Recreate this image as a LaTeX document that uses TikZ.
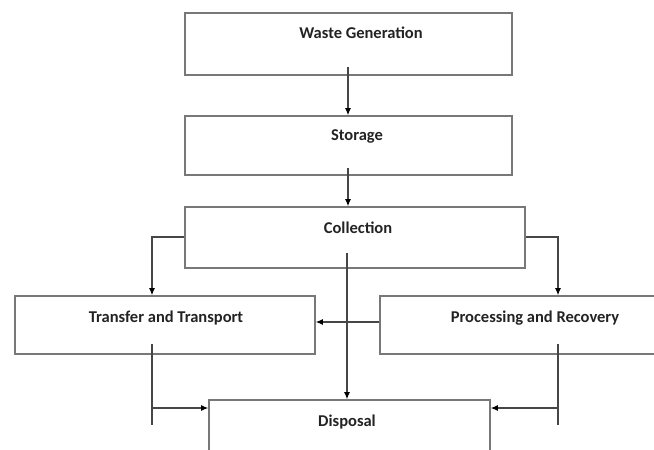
\documentclass[tikz,border=0pt]{standalone}
\usepackage{fontspec}
\setmainfont{Carlito}
\usetikzlibrary{arrows.meta}
\definecolor{ln}{RGB}{120,120,120}
\definecolor{cn}{RGB}{70,70,70}
\definecolor{tx}{RGB}{35,35,35}
\tikzset{
  box/.style={draw=ln, line width=1.6pt, rectangle, inner sep=0pt},
  lbl/.style={text=tx, font=\bfseries\fontsize{16.5}{18}\selectfont, inner sep=0pt},
  conn/.style={draw=cn, line width=1.1pt},
  arr/.style={conn, -{Latex[length=7pt,width=6pt,fill=black,color=black]}}
}
\begin{document}
\begin{tikzpicture}[x=1pt,y=-1pt]
\useasboundingbox (0,0) rectangle (654,450);
\clip (0,0) rectangle (654,450);
% boxes
\node[box, minimum width=327pt, minimum height=62pt] (wg) at (348.5,44) {};
\node[box, minimum width=327pt, minimum height=59pt] (st) at (348.5,145.5) {};
\node[box, minimum width=340pt, minimum height=61pt] (co) at (355,237.5) {};
\node[box, minimum width=300pt, minimum height=58pt] (tt) at (165,325) {};
\node[box, minimum width=282pt, minimum height=58pt] (pr) at (521,325) {};
\node[box, minimum width=281pt, minimum height=62pt] (di) at (349.5,431) {};
% labels
\node[lbl] (twg) at (361,33) {Waste Generation};
\node[lbl] (tst) at (357,136) {Storage};
\node[lbl] (tco) at (358,228) {Collection};
\node[lbl] (ttt) at (166,318) {Transfer and Transport};
\node[lbl] (tpr) at (535,318) {Processing and Recovery};
\node[lbl] (tdi) at (347,422) {Disposal};
% connector coordinates
\coordinate (a1) at (348,67);
\coordinate (a2) at (348,168);
\coordinate (cl) at (152,237);
\coordinate (cr) at (558,237);
\coordinate (cc) at (347,253);
\coordinate (tb1) at (152,344);
\coordinate (tb2) at (152,425);
\coordinate (th) at (152,408);
\coordinate (pb1) at (558,344);
\coordinate (pb2) at (558,425);
\coordinate (ph) at (558,408);
% connectors
\draw[arr] (a1) -- (a1 |- st.north);
\draw[arr] (a2) -- (a2 |- co.north);
\draw[arr] (co.west |- cl) -- (cl) -- (cl |- tt.north);
\draw[arr] (co.east |- cr) -- (cr) -- (cr |- pr.north);
\draw[arr] (cc) -- (cc |- di.north);
\draw[arr] (pr.west |- 0,322) -- (tt.east |- 0,322);
\draw[conn] (tb1) -- (tb2);
\draw[arr] (th) -- (th -| di.west);
\draw[conn] (pb1) -- (pb2);
\draw[arr] (ph) -- (ph -| di.east);
\end{tikzpicture}
\end{document}
